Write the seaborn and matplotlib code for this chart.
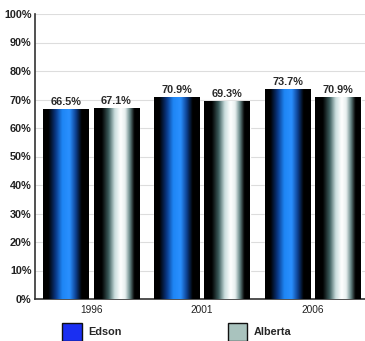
import numpy as np
import pandas as pd
import matplotlib
matplotlib.use("Agg")
import matplotlib.pyplot as plt
from matplotlib.colors import LinearSegmentedColormap
from matplotlib.patches import Patch
import seaborn as sns

years = ["1996", "2001", "2006"]
edson = [66.5, 70.9, 73.7]
alberta = [67.1, 69.3, 70.9]
series = ["Edson", "Alberta"]
yticks = list(range(0, 101, 10))

df = pd.DataFrame({
    "year": years * 2,
    "value": edson + alberta,
    "place": ["Edson"] * 3 + ["Alberta"] * 3,
})

sns.set_theme(style="white")
plt.rcParams["font.family"] = ["Liberation Sans", "DejaVu Sans"]

fig = plt.figure(figsize=(3.65, 3.41), dpi=100)
ax = fig.add_axes([35 / 365, 42 / 341, 330 / 365, 285 / 341])

legend_colors = {"Edson": "#1a2ff2", "Alberta": "#a9c3be"}
sns.barplot(data=df, x="year", y="value", hue="place", palette=legend_colors,
            width=0.91, gap=0.1, ax=ax, legend=False, zorder=2)

cmaps = {
    "Edson": LinearSegmentedColormap.from_list("edson", [
        (0.0, "#000000"), (0.12, "#000000"), (0.28, "#0a3a8a"), (0.42, "#1e86f5"),
        (0.58, "#2a90ff"), (0.72, "#0c3e8c"), (0.84, "#000000"), (1.0, "#000000")]),
    "Alberta": LinearSegmentedColormap.from_list("alberta", [
        (0.0, "#000000"), (0.17, "#000000"), (0.32, "#3d5e5e"), (0.45, "#c8dcdc"),
        (0.58, "#ffffff"), (0.68, "#e8f0f0"), (0.78, "#6a8a8a"), (0.88, "#000000"), (1.0, "#000000")]),
}
grad = np.linspace(0, 1, 256).reshape(1, -1)
for cont, name in zip(ax.containers, series):
    for bar in cont:
        x0, w, h = bar.get_x(), bar.get_width(), bar.get_height()
        im = ax.imshow(grad, cmap=cmaps[name], aspect="auto",
                       extent=(x0, x0 + w, 0, h), zorder=3, interpolation="bicubic")
        im.set_clip_path(bar)
    ax.bar_label(cont, fmt="%.1f%%", fontsize=7.8, fontweight="bold", color="#2a2a2a",
                 padding=1.5, zorder=4)

ax.set_xlim(-0.505, 2.47)
ax.set_ylim(0, 100)
ax.set_yticks(yticks)
ax.set_yticklabels([f"{t}%" for t in yticks], fontsize=7.8, fontweight="bold", color="#222222")
ax.tick_params(axis="x", labelsize=7.3, colors="#222222", length=0, pad=4)
ax.tick_params(axis="y", length=0, pad=2.5)
ax.set_xlabel("")
ax.set_ylabel("")
ax.yaxis.grid(True, color="#dddddd", linewidth=0.8, zorder=0)
ax.set_axisbelow(True)
for s in ["top", "right"]:
    ax.spines[s].set_visible(False)
for s in ["left", "bottom"]:
    ax.spines[s].set_color("#333333")
    ax.spines[s].set_linewidth(1.2)

handles = [Patch(facecolor=legend_colors[n], edgecolor="#111111", linewidth=1.0) for n in series]
fig.legend(handles, series, loc="upper left", bbox_to_anchor=(62 / 365, 1 - 323 / 341),
           ncol=2, frameon=False, borderpad=0, borderaxespad=0,
           handlelength=1.8, handleheight=2.2, handletextpad=0.6, columnspacing=9.8,
           prop={"size": 7.8, "weight": "bold"})

fig.savefig("out.png", dpi=100)
